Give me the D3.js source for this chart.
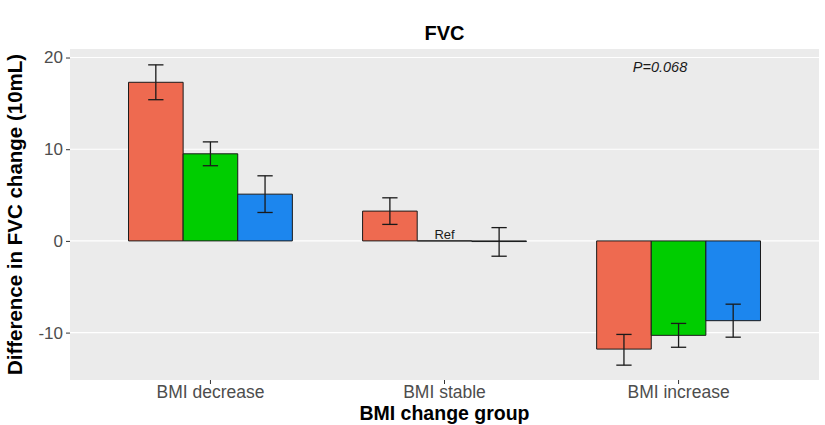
<!DOCTYPE html>
<html><head><meta charset="utf-8">
<script src="https://cdn.jsdelivr.net/npm/d3@7"></script>
<style>body{margin:0;background:#fff}svg{display:block}text{font-family:"Liberation Sans",Arial,sans-serif}</style>
</head><body><svg id="c" width="825" height="425"></svg>
<script>
const categories = ["BMI decrease", "BMI stable", "BMI increase"];
const series = ["s1", "s2", "s3"];
const colors = ["#EE6A50", "#00CD00", "#1C86EE"];
const values = [
  [17.3, 9.5, 5.1],
  [3.25, 0, -0.07],
  [-11.8, -10.3, -8.7]
];
const errLow = [
  [15.4, 8.2, 3.1],
  [1.8, null, -1.67],
  [-13.55, -11.6, -10.5]
];
const errHigh = [
  [19.2, 10.8, 7.1],
  [4.7, null, 1.45],
  [-10.2, -9.0, -6.9]
];
const yTicks = [-10, 0, 10, 20];
const title = "FVC";
const xTitle = "BMI change group";
const yTitle = "Difference in FVC change (10mL)";
const pText = "P=0.068";
const refText = "Ref";

const svg = d3.select("#c");
const L = 70, R = 819, T = 49, B = 380;
const x = d3.scaleBand().domain(categories).range([L, R]).paddingInner(0.3).paddingOuter(0.25);
const xs = d3.scaleBand().domain(series).range([0, x.bandwidth()]);
const y = d3.scaleLinear().domain([-15.17, 20.93]).range([B, T]);

svg.append("rect").attr("x", L).attr("y", T).attr("width", R - L).attr("height", B - T).attr("fill", "#EBEBEB");
svg.append("g").selectAll("line").data(yTicks).join("line")
  .attr("x1", L).attr("x2", R).attr("y1", d => y(d)).attr("y2", d => y(d))
  .attr("stroke", "#fff").attr("stroke-width", 1.1);

// y axis
const ya = svg.append("g").attr("transform", `translate(${L},0)`)
  .call(d3.axisLeft(y).tickValues(yTicks).tickSize(4).tickPadding(3).tickFormat(d => String(d)));
ya.select(".domain").remove();
ya.selectAll("line").attr("stroke", "#333");
ya.selectAll("text").attr("fill", "#4D4D4D").style("font-size", "17px").style("font-family", '"Liberation Sans",Arial,sans-serif');

// x axis
const xa = svg.append("g").attr("transform", `translate(0,${B})`)
  .call(d3.axisBottom(x).tickSize(4).tickPadding(2));
xa.select(".domain").remove();
xa.selectAll("line").attr("stroke", "#333");
xa.selectAll("text").attr("fill", "#4D4D4D").style("font-size", "17.5px").style("font-family", '"Liberation Sans",Arial,sans-serif');

// bars
const flat = [];
categories.forEach((c, i) => series.forEach((s, j) => flat.push({c, s, j, v: values[i][j], lo: errLow[i][j], hi: errHigh[i][j]})));
svg.append("g").selectAll("path").data(flat).join("path")
  .attr("d", d => {
    const x0 = x(d.c) + xs(d.s), x1 = x0 + xs.bandwidth();
    return `M${x0},${y(0)}H${x1}V${y(d.v)}H${x0}Z`;
  })
  .attr("fill", d => colors[d.j]).attr("stroke", "#1a1a1a").attr("stroke-width", 1);

// error bars
const eb = flat.filter(d => d.lo !== null);
const cap = xs.bandwidth() * 0.14;
const eg = svg.append("g").attr("stroke", "#1a1a1a").attr("stroke-width", 1.3);
eb.forEach(d => {
  const cx = x(d.c) + xs(d.s) + xs.bandwidth() / 2;
  eg.append("line").attr("x1", cx).attr("x2", cx).attr("y1", y(d.lo)).attr("y2", y(d.hi));
  eg.append("line").attr("x1", cx - cap).attr("x2", cx + cap).attr("y1", y(d.lo)).attr("y2", y(d.lo));
  eg.append("line").attr("x1", cx - cap).attr("x2", cx + cap).attr("y1", y(d.hi)).attr("y2", y(d.hi));
});

// Ref label
svg.append("text").attr("x", x("BMI stable") + xs("s2") + xs.bandwidth() / 2).attr("y", y(0) - 2)
  .attr("text-anchor", "middle").style("font-size", "13px").attr("fill", "#1a1a1a").text(refText);

// P value
svg.append("text").attr("x", 660).attr("y", 72).attr("text-anchor", "middle")
  .style("font-size", "14.5px").style("font-style", "italic").attr("fill", "#1a1a1a").text(pText);

// titles
svg.append("text").attr("x", (L + R) / 2).attr("y", 40).attr("text-anchor", "middle")
  .style("font-size", "20px").style("font-weight", "bold").text(title);
svg.append("text").attr("x", (L + R) / 2).attr("y", 420).attr("text-anchor", "middle")
  .style("font-size", "19.5px").style("font-weight", "bold").text(xTitle);
svg.append("text").attr("transform", `translate(22,${(T + B) / 2}) rotate(-90)`).attr("text-anchor", "middle")
  .style("font-size", "20.5px").style("font-weight", "bold").text(yTitle);
</script></body></html>
